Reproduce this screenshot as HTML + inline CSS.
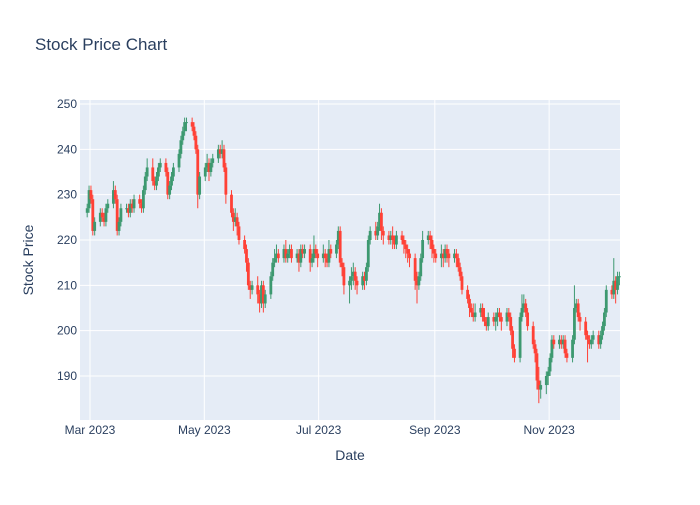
<!DOCTYPE html>
<html><head><meta charset="utf-8"><style>
body{margin:0;background:#fff;font-family:"Liberation Sans",sans-serif;}
svg text{font-family:"Liberation Sans",sans-serif;fill:#2a3f5f;}
</style></head><body>
<svg id="chart" width="700" height="500">
<rect x="0" y="0" width="700" height="500" fill="#fff"/>
<text x="35" y="50" font-size="17">Stock Price Chart</text>
<rect x="80" y="100" width="540" height="320" fill="#E5ECF6"/>
<g id="grid"></g><g id="candles"></g><g id="ticks"></g>
<text x="350" y="460" font-size="14" text-anchor="middle">Date</text>
<text transform="translate(33,260) rotate(-90)" font-size="14" text-anchor="middle">Stock Price</text>
</svg>
<script>
const openVals=[226,227,231,229,222, 224,226,225,224,227, 228,231,229,222,224, 227,227,226,228,227, 229,228,227,231,234, 236,233,232,234,236, 237,235,230,232,234, 236,239,242,244,246, 246,245,243,240,230, 234,236,237,235,237, 238,240,239,240,236, 230,226,224,225,223, 220,218,215,210,209, 210,208,206,210,206, 208,212,215,216,217, 216,218,216,217,218, 216,217,215,218,217, 218,215,216,218,217, 216,217,216,215,218, 217,219,222,215,214, 210,211,212,213,211, 210,212,211,214,220, 222,221,223,226,222, 221,220,221,220,219, 221,220,219,218,217, 216,211,210,212,216, 220,221,220,218,217, 216,217,216,218,217, 216,217,216,214,212, 209,207,205,204,203, 204,205,203,202,201, 203,202,203,204,203, 202,204,203,200,196, 194,203,205,206,204, 201,197,195,189,187, 188,190,191,194,198, 197,198,197,198,195, 194,198,205,206,203, 202,199,198,197,198, 199,197,199,201,204, 209,208,211,209,212];
const highVals=[228,232,232,230,225, 227,227,226,228,229, 233,232,230,225,228, 228,228,229,229,230, 230,229,232,235,238, 238,234,235,237,238, 238,236,233,235,237, 240,243,245,247,247, 247,246,244,241,235, 237,239,238,238,239, 241,241,242,241,237, 231,227,227,226,224, 221,219,216,211,211, 212,209,211,211,209, 213,216,218,219,218, 219,220,218,219,219, 218,218,219,219,219, 219,217,221,219,218, 219,218,217,220,219, 220,223,223,216,215, 212,214,215,214,212, 213,213,215,221,223, 224,224,228,227,223, 222,222,223,221,222, 222,221,220,219,218, 217,213,213,217,222, 222,222,221,219,218, 219,218,219,219,218, 218,218,217,215,213, 210,208,206,206,206, 206,206,205,203,204, 204,204,205,205,204, 205,205,204,201,197, 204,208,208,207,205, 202,198,196,192,189, 191,192,195,199,199, 199,199,199,199,196, 199,210,207,207,204, 203,200,199,199,200, 200,200,202,205,210, 210,216,212,213,213];
const lowVals=[225,226,228,221,221, 223,224,223,223,226, 227,228,221,221,223, 226,225,225,226,226, 227,226,226,230,233, 232,231,231,233,235, 234,229,229,231,233, 235,238,241,243,244, 244,242,239,227,229, 233,235,233,234,236, 237,238,238,235,228, 225,222,223,221,219, 217,213,209,207,208, 206,204,205,204,205, 207,211,214,215,215, 215,215,215,216,215, 215,213,214,216,216, 213,214,215,216,214, 215,214,214,214,216, 216,218,214,212,208, 206,209,210,209,208, 209,209,210,213,219, 220,220,222,220,219, 219,219,218,218,218, 219,217,216,215,214, 209,206,209,211,215, 219,218,216,215,215, 214,214,215,215,214, 215,214,213,211,208, 206,203,203,202,202, 203,202,201,200,200, 201,200,201,202,200, 201,202,199,194,193, 193,202,204,203,200, 196,193,187,184,185, 186,188,190,193,196, 196,196,196,194,193, 193,197,204,202,200, 198,193,196,196,197, 196,196,198,200,203, 207,207,206,208,210];
const closeVals=[227,231,229,222,224, 226,225,224,227,228, 231,229,222,224,227, 227,226,228,227,229, 228,227,231,234,236, 233,232,234,236,237, 235,230,232,234,236, 239,242,244,246,246, 245,243,240,230,234, 236,237,235,237,238, 240,239,240,236,230, 226,224,225,223,220, 218,215,210,209,210, 208,206,210,206,208, 212,215,216,217,216, 218,216,217,218,216, 217,215,218,217,218, 215,216,218,217,216, 217,216,215,218,217, 219,222,215,214,210, 211,212,213,211,210, 212,211,214,220,222, 221,223,226,222,221, 220,221,220,219,221, 220,219,218,217,216, 211,210,212,216,220, 221,220,218,217,216, 217,216,218,217,216, 217,216,214,212,209, 207,205,204,203,204, 205,203,202,201,203, 202,203,204,203,202, 204,203,200,196,194, 203,205,206,204,201, 197,195,189,187,188, 190,191,194,198,197, 198,197,198,195,194, 198,205,206,203,202, 199,198,197,198,199, 197,199,201,204,209, 208,211,209,212,212];
const yTickVals=[190,200,210,220,230,240,250];
const xTickLabels=["Mar 2023","May 2023","Jul 2023","Sep 2023","Nov 2023"];
const xTickDates=["2023-03-01","2023-05-01","2023-07-01","2023-09-01","2023-11-01"];
const startDate="2023-02-27";

const NS="http://www.w3.org/2000/svg";
const X0=Date.UTC(2023,2,1), DAY=86400000;
function xScale(t){return 90+((t-X0)/DAY)*1.874;}
function yScale(p){return 104+(250-p)*4.533;}
function mk(tag,attrs,parent){const e=document.createElementNS(NS,tag);for(const k in attrs)e.setAttribute(k,attrs[k]);parent.appendChild(e);return e;}
const dates=[];let d=Date.parse(startDate+"T00:00:00Z");
while(dates.length<closeVals.length){const wd=new Date(d).getUTCDay();if(wd!==0&&wd!==6)dates.push(d);d+=DAY;}
const grid=document.getElementById('grid'),ticks=document.getElementById('ticks'),cg=document.getElementById('candles');
yTickVals.forEach(v=>{const y=yScale(v);
const l=mk('line',{x1:80,x2:620,y1:y,y2:y,stroke:'#fff','stroke-width':1},grid);


const t=mk('text',{x:77,y:y+4,'font-size':12,'text-anchor':'end'},ticks);t.textContent=v;

});
xTickDates.forEach((s,i)=>{const x=xScale(Date.parse(s+"T00:00:00Z"));
const l=mk('line',{x1:x,x2:x,y1:100,y2:420,stroke:'#fff','stroke-width':1},grid);


const t=mk('text',{x:x,y:434,'font-size':12,'text-anchor':'middle'},ticks);t.textContent=xTickLabels[i];

});
closeVals.forEach((c,i)=>{const o=openVals[i],h=highVals[i],lo=lowVals[i];
const up=c>=o,col=up?'#3D9970':'#FF4136';const x=xScale(dates[i]+DAY/2);
const g=mk('g',{},cg);


mk('line',{x1:x,x2:x,y1:yScale(h),y2:yScale(lo),stroke:col,'stroke-width':1},g);
const yt=yScale(Math.max(o,c)),yb=yScale(Math.min(o,c));
mk('rect',{x:x-1.4,y:yt,width:2.8,height:Math.max(1,yb-yt),fill:col},g);});
</script>
</body></html>
